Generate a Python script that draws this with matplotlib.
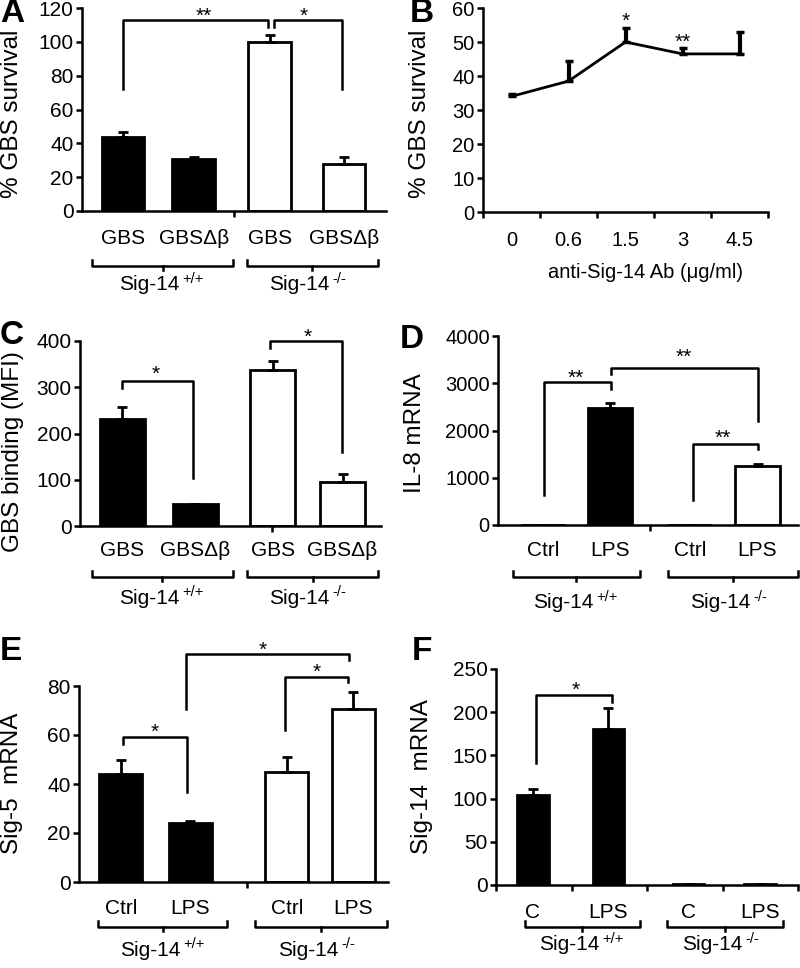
import matplotlib
matplotlib.use("Agg")
import matplotlib.pyplot as plt
from matplotlib.transforms import blended_transform_factory, offset_copy

plt.rcParams['font.family'] = ['Liberation Sans', 'DejaVu Sans']

# ---- data ----
a_labels = ['GBS', 'GBSΔβ', 'GBS', 'GBSΔβ']
a_vals = [44, 30.5, 100, 28]
a_err = [2.5, 1.2, 4, 4]

b_doses = ['0', '0.6', '1.5', '3', '4.5']
b_vals = [34, 38.5, 50, 46.5, 46.5]
b_err = [0.8, 6, 4, 1.8, 6.5]

c_labels = ['GBS', 'GBSΔβ', 'GBS', 'GBSΔβ']
c_vals = [232, 47, 338, 95]
c_err = [26, 0, 18, 18]

d_labels = ['Ctrl', 'LPS', 'Ctrl', 'LPS']
d_vals = [0, 2480, 0, 1250]
d_err = [0, 100, 0, 50]

e_labels = ['Ctrl', 'LPS', 'Ctrl', 'LPS']
e_vals = [44, 24, 45, 70.5]
e_err = [6, 1, 6, 7]

f_labels = ['C', 'LPS', 'C', 'LPS']
f_vals = [104, 180, 1, 1]
f_err = [7, 25, 0, 0]

groups = [('Sig-14', '+/+'), ('Sig-14', '\u2010/\u2010')]
fills = ['black', 'black', 'white', 'white']

LW = 1.8
W, H = 800, 968
fig = plt.figure(figsize=(W / 100, H / 100), dpi=100)


def fy(py):
    return 1 - py / H


def panel(l, t, r, b):
    ax = fig.add_axes([l / W, 1 - b / H, (r - l) / W, (b - t) / H])
    for s in ('top', 'right'):
        ax.spines[s].set_visible(False)
    for s in ('left', 'bottom'):
        ax.spines[s].set_linewidth(LW)
    ax.tick_params(axis='y', width=LW, length=4, labelsize=15, pad=2)
    ax.tick_params(axis='x', width=LW, length=4)
    return ax


def ylab(text, px, py, fs=17.5):
    fig.text(px / W, fy(py), text, rotation=90, ha='center', va='center', fontsize=fs)


def star(ax, x, y, s, fs=15):
    tr = offset_copy(ax.transData, fig=fig, y=-0.6 * fs, units='points')
    ax.text(x, y, s, transform=tr, ha='center', va='baseline', fontsize=fs, clip_on=False)


def sig(ax, x1, x2, ytop, y1, y2):
    ax.plot([x1, x1, x2, x2], [y1, ytop, ytop, y2], color='k', lw=LW, clip_on=False)


def bars(ax, pos, vals, err, width, labels, cat_y, fs=15):
    ax.bar(pos, vals, width=width, color=fills, edgecolor='k', linewidth=2.0, zorder=2)
    ax.errorbar(pos, vals, yerr=[[0] * len(err), err], fmt='none', ecolor='k',
                elinewidth=2.0, capsize=3.5, capthick=2.0, zorder=3)
    bt = blended_transform_factory(ax.transData, fig.transFigure)
    for x, lab in zip(pos, labels):
        ax.text(x, fy(cat_y), lab, transform=bt, ha='center', va='center', fontsize=fs)


def group_brackets(ax, spans, yh, ylabel_y, fs=15):
    bt = blended_transform_factory(ax.transData, fig.transFigure)
    for (x1, x2), (name, sup) in zip(spans, groups):
        ax.plot([x1, x1, x2, x2], [fy(yh - 6), fy(yh), fy(yh), fy(yh - 6)], color='k',
                lw=LW, transform=bt, clip_on=False)
        xm = (x1 + x2) / 2
        ax.plot([xm, xm], [fy(yh), fy(yh + 4)], color='k', lw=LW, transform=bt, clip_on=False)
        ax.text(xm, fy(ylabel_y), name, transform=offset_copy(bt, fig=fig, x=-31, units='points'),
                ha='left', va='center', fontsize=fs)
        ax.text(xm, fy(ylabel_y), sup, transform=offset_copy(bt, fig=fig, x=14.5, y=4.5, units='points'),
                ha='left', va='center', fontsize=10.5)


def letter(s, px, py):
    fig.text(px / W, fy(py), s, fontsize=24, fontweight='bold', ha='left', va='center')


# ---- A ----
axA = panel(82, 8, 386, 211)
axA.set_xlim(0, 4)
axA.set_ylim(0, 120)
axA.set_yticks(range(0, 121, 20))
axA.set_xticks([2])
axA.set_xticklabels([])
bars(axA, [0.54, 1.47, 2.47, 3.45], a_vals, a_err, 0.56, a_labels, 238)
sig(axA, 0.54, 2.45, 113, 72, 109)
sig(axA, 2.52, 3.42, 113, 109, 72)
star(axA, 1.6, 119, '**')
star(axA, 2.92, 119, '*')
group_brackets(axA, [(0.13, 1.99), (2.17, 3.89)], 266, 285)
ylab('% GBS survival', 12, 114)
letter('A', 0, 14)

# ---- B ----
axB = panel(483, 8, 768, 212)
xb = [i + 0.5 for i in range(len(b_doses))]
axB.set_xlim(0, 5)
axB.set_ylim(0, 60)
axB.set_yticks(range(0, 61, 10))
axB.tick_params(axis='y', labelsize=14.5)
axB.set_xticks(range(6))
axB.set_xticklabels([])
axB.plot(xb, b_vals, color='k', lw=2)
axB.errorbar(xb, b_vals, yerr=[[0] * len(b_err), b_err], fmt='none', ecolor='k',
             elinewidth=3, capsize=3, capthick=2.5)
btB = blended_transform_factory(axB.transData, fig.transFigure)
for x, lab in zip(xb, b_doses):
    axB.text(x, fy(240), lab, transform=btB, ha='center', va='center', fontsize=14.5)
fig.text(645 / W, fy(273), 'anti-Sig-14 Ab (μg/ml)', ha='center', va='center', fontsize=14.5)
star(axB, 2.5, 58, '*')
star(axB, 3.5, 52, '**')
ylab('% GBS survival', 420, 114)
letter('B', 410, 14)

# ---- C ----
axC = panel(80, 341, 381, 526)
axC.set_xlim(0, 4)
axC.set_ylim(0, 400)
axC.set_yticks(range(0, 401, 100))
axC.set_xticks([2.55])
axC.set_xticklabels([])
bars(axC, [0.56, 1.53, 2.56, 3.49], c_vals, c_err, 0.6, c_labels, 550)
sig(axC, 0.56, 1.5, 313, 298, 104)
sig(axC, 2.52, 3.48, 400, 385, 160)
star(axC, 1.0, 342, '*')
star(axC, 3.03, 424, '*')
group_brackets(axC, [(0.16, 2.03), (2.22, 3.96)], 577, 598)
ylab('GBS binding (MFI)', 13, 452)
letter('C', 0, 336)

# ---- D ----
axD = panel(498, 336, 798, 525)
axD.set_xlim(0, 4)
axD.set_ylim(0, 4000)
axD.set_yticks(range(0, 4001, 1000))
axD.tick_params(axis='y', labelsize=14.5)
axD.set_xticks([2.03])
axD.set_xticklabels([])
bars(axD, [0.6, 1.49, 2.56, 3.46], d_vals, d_err, 0.59, d_labels, 550)
sig(axD, 0.61, 1.5, 3030, 640, 2870)
sig(axD, 1.5, 3.47, 3330, 3190, 2210)
sig(axD, 2.6, 3.47, 1715, 530, 1600)
star(axD, 1.03, 3260, '**')
star(axD, 2.47, 3690, '**')
star(axD, 3.0, 1990, '**')
group_brackets(axD, [(0.2, 1.89), (2.27, 4.0)], 577, 603)
ylab('IL-8 mRNA', 415, 433)
letter('D', 400, 340)

# ---- E ----
axE = panel(79, 686, 388, 882)
axE.set_xlim(0, 4)
axE.set_ylim(0, 80)
axE.set_yticks(range(0, 81, 20))
axE.set_xticks([2.17])
axE.set_xticklabels([])
bars(axE, [0.54, 1.44, 2.69, 3.55], e_vals, e_err, 0.56, e_labels, 908)
sig(axE, 0.57, 1.4, 59.2, 56.5, 36.7)
sig(axE, 2.67, 3.48, 83.7, 62, 81.6)
sig(axE, 1.39, 3.5, 93.2, 70.7, 90.5)
star(axE, 0.98, 64, '*')
star(axE, 3.08, 88.4, '*')
star(axE, 2.38, 97.6, '*')
group_brackets(axE, [(0.25, 1.92), (2.28, 3.99)], 927, 950)
ylab('Sig-5  mRNA', 12, 783)
letter('E', 0, 652)

# ---- F ----
axF = panel(496, 669, 798, 885)
axF.set_xlim(0, 4)
axF.set_ylim(0, 250)
axF.set_yticks(range(0, 251, 50))
axF.set_xticks(range(5))
axF.set_xticklabels([])
bars(axF, [0.49, 1.49, 2.55, 3.5], f_vals, f_err, 0.42, f_labels, 913)
sig(axF, 0.53, 1.54, 220, 141, 212)
star(axF, 1.05, 233, '*')
group_brackets(axF, [(0.38, 1.91), (2.26, 3.8)], 927, 945)
ylab('Sig-14  mRNA', 422, 777)
letter('F', 412, 652)

fig.savefig('out.png', dpi=100, facecolor='white')
